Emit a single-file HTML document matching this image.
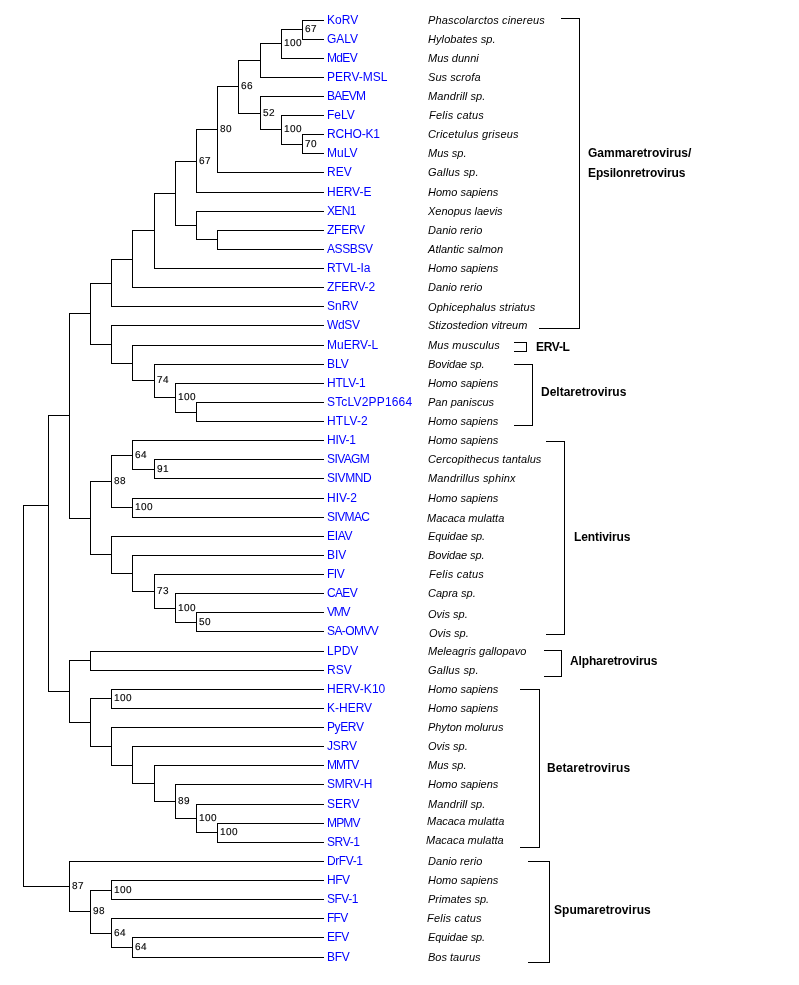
<!DOCTYPE html>
<html><head><meta charset="utf-8"><title>Retrovirus phylogeny</title>
<style>
html,body{margin:0;padding:0;background:#fff;}
body{width:799px;height:985px;overflow:hidden;}
svg{display:block;}
text{font-family:"Liberation Sans",Arial,sans-serif;}
.bs text{text-rendering:geometricPrecision;font-size:10px;letter-spacing:0.4px;fill:#000;stroke:#000;stroke-width:0.12px;}
.tp text{font-size:12px;fill:#0000ff;}
.sp text{font-size:11px;font-style:italic;fill:#000;}
.gr text{font-size:12px;font-weight:bold;fill:#000;}
</style></head><body>
<svg width="799" height="985" viewBox="0 0 799 985">
<g fill="#000" shape-rendering="crispEdges">
<rect x="23" y="505" width="26" height="1"/>
<rect x="48" y="415" width="22" height="1"/>
<rect x="69" y="313" width="22" height="1"/>
<rect x="90" y="283" width="22" height="1"/>
<rect x="111" y="259" width="22" height="1"/>
<rect x="132" y="230" width="23" height="1"/>
<rect x="154" y="193" width="22" height="1"/>
<rect x="175" y="161" width="22" height="1"/>
<rect x="196" y="129" width="22" height="1"/>
<rect x="217" y="86" width="22" height="1"/>
<rect x="238" y="60" width="23" height="1"/>
<rect x="260" y="43" width="22" height="1"/>
<rect x="281" y="29" width="22" height="1"/>
<rect x="302" y="20" width="22" height="1"/>
<rect x="302" y="39" width="22" height="1"/>
<rect x="302" y="20" width="1" height="20"/>
<rect x="281" y="58" width="43" height="1"/>
<rect x="281" y="29" width="1" height="30"/>
<rect x="260" y="77" width="64" height="1"/>
<rect x="260" y="43" width="1" height="35"/>
<rect x="238" y="113" width="23" height="1"/>
<rect x="260" y="96" width="64" height="1"/>
<rect x="260" y="129" width="22" height="1"/>
<rect x="281" y="115" width="43" height="1"/>
<rect x="281" y="144" width="22" height="1"/>
<rect x="302" y="134" width="22" height="1"/>
<rect x="302" y="153" width="22" height="1"/>
<rect x="302" y="134" width="1" height="20"/>
<rect x="281" y="115" width="1" height="30"/>
<rect x="260" y="96" width="1" height="34"/>
<rect x="238" y="60" width="1" height="54"/>
<rect x="217" y="172" width="107" height="1"/>
<rect x="217" y="86" width="1" height="87"/>
<rect x="196" y="192" width="128" height="1"/>
<rect x="196" y="129" width="1" height="64"/>
<rect x="175" y="225" width="22" height="1"/>
<rect x="196" y="211" width="128" height="1"/>
<rect x="196" y="239" width="22" height="1"/>
<rect x="217" y="230" width="107" height="1"/>
<rect x="217" y="249" width="107" height="1"/>
<rect x="217" y="230" width="1" height="20"/>
<rect x="196" y="211" width="1" height="29"/>
<rect x="175" y="161" width="1" height="65"/>
<rect x="154" y="268" width="170" height="1"/>
<rect x="154" y="193" width="1" height="76"/>
<rect x="132" y="287" width="192" height="1"/>
<rect x="132" y="230" width="1" height="58"/>
<rect x="111" y="306" width="213" height="1"/>
<rect x="111" y="259" width="1" height="48"/>
<rect x="90" y="344" width="22" height="1"/>
<rect x="111" y="325" width="213" height="1"/>
<rect x="111" y="363" width="22" height="1"/>
<rect x="132" y="345" width="192" height="1"/>
<rect x="132" y="380" width="23" height="1"/>
<rect x="154" y="364" width="170" height="1"/>
<rect x="154" y="397" width="22" height="1"/>
<rect x="175" y="383" width="149" height="1"/>
<rect x="175" y="412" width="22" height="1"/>
<rect x="196" y="402" width="128" height="1"/>
<rect x="196" y="421" width="128" height="1"/>
<rect x="196" y="402" width="1" height="20"/>
<rect x="175" y="383" width="1" height="30"/>
<rect x="154" y="364" width="1" height="34"/>
<rect x="132" y="345" width="1" height="36"/>
<rect x="111" y="325" width="1" height="39"/>
<rect x="90" y="283" width="1" height="62"/>
<rect x="69" y="518" width="22" height="1"/>
<rect x="90" y="481" width="22" height="1"/>
<rect x="111" y="455" width="22" height="1"/>
<rect x="132" y="440" width="192" height="1"/>
<rect x="132" y="469" width="23" height="1"/>
<rect x="154" y="459" width="170" height="1"/>
<rect x="154" y="478" width="170" height="1"/>
<rect x="154" y="459" width="1" height="20"/>
<rect x="132" y="440" width="1" height="30"/>
<rect x="111" y="507" width="22" height="1"/>
<rect x="132" y="498" width="192" height="1"/>
<rect x="132" y="517" width="192" height="1"/>
<rect x="132" y="498" width="1" height="20"/>
<rect x="111" y="455" width="1" height="53"/>
<rect x="90" y="554" width="22" height="1"/>
<rect x="111" y="536" width="213" height="1"/>
<rect x="111" y="573" width="22" height="1"/>
<rect x="132" y="555" width="192" height="1"/>
<rect x="132" y="591" width="23" height="1"/>
<rect x="154" y="574" width="170" height="1"/>
<rect x="154" y="608" width="22" height="1"/>
<rect x="175" y="593" width="149" height="1"/>
<rect x="175" y="622" width="22" height="1"/>
<rect x="196" y="612" width="128" height="1"/>
<rect x="196" y="631" width="128" height="1"/>
<rect x="196" y="612" width="1" height="20"/>
<rect x="175" y="593" width="1" height="30"/>
<rect x="154" y="574" width="1" height="35"/>
<rect x="132" y="555" width="1" height="37"/>
<rect x="111" y="536" width="1" height="38"/>
<rect x="90" y="481" width="1" height="74"/>
<rect x="69" y="313" width="1" height="206"/>
<rect x="48" y="691" width="22" height="1"/>
<rect x="69" y="660" width="22" height="1"/>
<rect x="90" y="651" width="234" height="1"/>
<rect x="90" y="670" width="234" height="1"/>
<rect x="90" y="651" width="1" height="20"/>
<rect x="69" y="722" width="22" height="1"/>
<rect x="90" y="698" width="22" height="1"/>
<rect x="111" y="689" width="213" height="1"/>
<rect x="111" y="708" width="213" height="1"/>
<rect x="111" y="689" width="1" height="20"/>
<rect x="90" y="746" width="22" height="1"/>
<rect x="111" y="727" width="213" height="1"/>
<rect x="111" y="765" width="22" height="1"/>
<rect x="132" y="746" width="192" height="1"/>
<rect x="132" y="783" width="23" height="1"/>
<rect x="154" y="765" width="170" height="1"/>
<rect x="154" y="801" width="22" height="1"/>
<rect x="175" y="784" width="149" height="1"/>
<rect x="175" y="818" width="22" height="1"/>
<rect x="196" y="804" width="128" height="1"/>
<rect x="196" y="832" width="22" height="1"/>
<rect x="217" y="823" width="107" height="1"/>
<rect x="217" y="842" width="107" height="1"/>
<rect x="217" y="823" width="1" height="20"/>
<rect x="196" y="804" width="1" height="29"/>
<rect x="175" y="784" width="1" height="35"/>
<rect x="154" y="765" width="1" height="37"/>
<rect x="132" y="746" width="1" height="38"/>
<rect x="111" y="727" width="1" height="39"/>
<rect x="90" y="698" width="1" height="49"/>
<rect x="69" y="660" width="1" height="63"/>
<rect x="48" y="415" width="1" height="277"/>
<rect x="23" y="886" width="47" height="1"/>
<rect x="69" y="861" width="255" height="1"/>
<rect x="69" y="911" width="22" height="1"/>
<rect x="90" y="890" width="22" height="1"/>
<rect x="111" y="880" width="213" height="1"/>
<rect x="111" y="899" width="213" height="1"/>
<rect x="111" y="880" width="1" height="20"/>
<rect x="90" y="933" width="22" height="1"/>
<rect x="111" y="918" width="213" height="1"/>
<rect x="111" y="947" width="22" height="1"/>
<rect x="132" y="937" width="192" height="1"/>
<rect x="132" y="957" width="192" height="1"/>
<rect x="132" y="937" width="1" height="21"/>
<rect x="111" y="918" width="1" height="30"/>
<rect x="90" y="890" width="1" height="44"/>
<rect x="69" y="861" width="1" height="51"/>
<rect x="23" y="505" width="1" height="382"/>
<rect x="561" y="18" width="19" height="1"/>
<rect x="539" y="328" width="41" height="1"/>
<rect x="579" y="18" width="1" height="311"/>
<rect x="514" y="342" width="13" height="1"/>
<rect x="514" y="351" width="13" height="1"/>
<rect x="526" y="342" width="1" height="10"/>
<rect x="514" y="364" width="19" height="1"/>
<rect x="514" y="425" width="19" height="1"/>
<rect x="532" y="364" width="1" height="62"/>
<rect x="546" y="441" width="19" height="1"/>
<rect x="546" y="634" width="19" height="1"/>
<rect x="564" y="441" width="1" height="194"/>
<rect x="544" y="650" width="18" height="1"/>
<rect x="544" y="676" width="18" height="1"/>
<rect x="561" y="650" width="1" height="27"/>
<rect x="520" y="689" width="20" height="1"/>
<rect x="520" y="847" width="20" height="1"/>
<rect x="539" y="689" width="1" height="159"/>
<rect x="528" y="861" width="22" height="1"/>
<rect x="528" y="962" width="22" height="1"/>
<rect x="549" y="861" width="1" height="102"/>
</g>
<g class="bs">
<text x="305" y="32">67</text>
<text x="284" y="46">100</text>
<text x="305" y="147">70</text>
<text x="284" y="132">100</text>
<text x="263" y="116">52</text>
<text x="241" y="89">66</text>
<text x="220" y="132">80</text>
<text x="199" y="164">67</text>
<text x="178" y="400">100</text>
<text x="157" y="383">74</text>
<text x="157" y="472">91</text>
<text x="135" y="458">64</text>
<text x="135" y="510">100</text>
<text x="114" y="484">88</text>
<text x="199" y="625">50</text>
<text x="178" y="611">100</text>
<text x="157" y="594">73</text>
<text x="114" y="701">100</text>
<text x="220" y="835">100</text>
<text x="199" y="821">100</text>
<text x="178" y="804">89</text>
<text x="114" y="893">100</text>
<text x="135" y="950">64</text>
<text x="114" y="936">64</text>
<text x="93" y="914">98</text>
<text x="72" y="889">87</text>
</g>
<g class="tp">
<text x="327" y="24">KoRV</text>
<text x="327" y="43">GALV</text>
<text x="327" y="62" style="letter-spacing:-0.67px">MdEV</text>
<text x="327" y="81">PERV-MSL</text>
<text x="327" y="100" style="letter-spacing:-0.75px">BAEVM</text>
<text x="327" y="119">FeLV</text>
<text x="327" y="138" style="letter-spacing:-0.17px">RCHO-K1</text>
<text x="327" y="157">MuLV</text>
<text x="327" y="176">REV</text>
<text x="327" y="196">HERV-E</text>
<text x="327" y="215" style="letter-spacing:-0.67px">XEN1</text>
<text x="327" y="234" style="letter-spacing:-0.25px">ZFERV</text>
<text x="327" y="253" style="letter-spacing:-0.40px">ASSBSV</text>
<text x="327" y="272" style="letter-spacing:-0.17px">RTVL-Ia</text>
<text x="327" y="291" style="letter-spacing:-0.17px">ZFERV-2</text>
<text x="327" y="310">SnRV</text>
<text x="327" y="329" style="letter-spacing:-0.33px">WdSV</text>
<text x="327" y="349">MuERV-L</text>
<text x="327" y="368">BLV</text>
<text x="327" y="387" style="letter-spacing:-0.20px">HTLV-1</text>
<text x="327" y="406" style="letter-spacing:0.18px">STcLV2PP1664</text>
<text x="327" y="425" style="letter-spacing:0.20px">HTLV-2</text>
<text x="327" y="444" style="letter-spacing:-0.25px">HIV-1</text>
<text x="327" y="463" style="letter-spacing:-0.60px">SIVAGM</text>
<text x="327" y="482" style="letter-spacing:-0.40px">SIVMND</text>
<text x="327" y="502">HIV-2</text>
<text x="327" y="521" style="letter-spacing:-0.60px">SIVMAC</text>
<text x="327" y="540" style="letter-spacing:-0.33px">EIAV</text>
<text x="327" y="559">BIV</text>
<text x="327" y="578" style="letter-spacing:-0.50px">FIV</text>
<text x="327" y="597" style="letter-spacing:-0.67px">CAEV</text>
<text x="327" y="616" style="letter-spacing:-1.25px">VMV</text>
<text x="327" y="635" style="letter-spacing:-0.58px">SA-OMVV</text>
<text x="327" y="655">LPDV</text>
<text x="327" y="674">RSV</text>
<text x="327" y="693" style="letter-spacing:0.07px">HERV-K10</text>
<text x="327" y="712">K-HERV</text>
<text x="327" y="731" style="letter-spacing:-0.38px">PyERV</text>
<text x="327" y="750" style="letter-spacing:-0.17px">JSRV</text>
<text x="327" y="769" style="letter-spacing:-1.00px">MMTV</text>
<text x="327" y="788" style="letter-spacing:-0.20px">SMRV-H</text>
<text x="327" y="808">SERV</text>
<text x="327" y="827" style="letter-spacing:-0.83px">MPMV</text>
<text x="327" y="846" style="letter-spacing:-0.38px">SRV-1</text>
<text x="327" y="865" style="letter-spacing:-0.40px">DrFV-1</text>
<text x="327" y="884" style="letter-spacing:-0.50px">HFV</text>
<text x="327" y="903" style="letter-spacing:-0.50px">SFV-1</text>
<text x="327" y="922" style="letter-spacing:-0.75px">FFV</text>
<text x="327" y="941" style="letter-spacing:-0.50px">EFV</text>
<text x="327" y="961" style="letter-spacing:-0.25px">BFV</text>
</g>
<g class="sp">
<text x="428" y="24" style="letter-spacing:0.14px">Phascolarctos cinereus</text>
<text x="428" y="43" style="letter-spacing:0.08px">Hylobates sp.</text>
<text x="428" y="62">Mus dunni</text>
<text x="428" y="81" style="letter-spacing:0.06px">Sus scrofa</text>
<text x="428" y="100" style="letter-spacing:0.09px">Mandrill sp.</text>
<text x="429" y="119" style="letter-spacing:0.23px">Felis catus</text>
<text x="428" y="138" style="letter-spacing:0.18px">Cricetulus griseus</text>
<text x="428" y="157">Mus sp.</text>
<text x="428" y="176" style="letter-spacing:0.17px">Gallus sp.</text>
<text x="428" y="196">Homo sapiens</text>
<text x="428" y="215">Xenopus laevis</text>
<text x="428" y="234" style="letter-spacing:0.05px">Danio rerio</text>
<text x="428" y="253" style="letter-spacing:0.04px">Atlantic salmon</text>
<text x="428" y="272">Homo sapiens</text>
<text x="428" y="291" style="letter-spacing:0.05px">Danio rerio</text>
<text x="428" y="311" style="letter-spacing:0.07px">Ophicephalus striatus</text>
<text x="428" y="329" style="letter-spacing:0.02px">Stizostedion vitreum</text>
<text x="428" y="349" style="letter-spacing:0.13px">Mus musculus</text>
<text x="428" y="368" style="letter-spacing:-0.10px">Bovidae sp.</text>
<text x="428" y="387">Homo sapiens</text>
<text x="428" y="406">Pan paniscus</text>
<text x="428" y="425">Homo sapiens</text>
<text x="428" y="444">Homo sapiens</text>
<text x="428" y="463" style="letter-spacing:0.07px">Cercopithecus tantalus</text>
<text x="428" y="482" style="letter-spacing:0.16px">Mandrillus sphinx</text>
<text x="428" y="502">Homo sapiens</text>
<text x="427" y="522" style="letter-spacing:-0.03px">Macaca mulatta</text>
<text x="428" y="540" style="letter-spacing:-0.10px">Equidae sp.</text>
<text x="428" y="559" style="letter-spacing:-0.10px">Bovidae sp.</text>
<text x="429" y="578" style="letter-spacing:0.23px">Felis catus</text>
<text x="428" y="597">Capra sp.</text>
<text x="428" y="618">Ovis sp.</text>
<text x="429" y="637">Ovis sp.</text>
<text x="428" y="655" style="letter-spacing:0.03px">Meleagris gallopavo</text>
<text x="428" y="674" style="letter-spacing:0.17px">Gallus sp.</text>
<text x="428" y="693">Homo sapiens</text>
<text x="428" y="712">Homo sapiens</text>
<text x="428" y="731" style="letter-spacing:-0.08px">Phyton molurus</text>
<text x="428" y="750">Ovis sp.</text>
<text x="428" y="769">Mus sp.</text>
<text x="428" y="788">Homo sapiens</text>
<text x="428" y="808" style="letter-spacing:0.09px">Mandrill sp.</text>
<text x="427" y="825" style="letter-spacing:-0.03px">Macaca mulatta</text>
<text x="426" y="844">Macaca mulatta</text>
<text x="428" y="865" style="letter-spacing:0.05px">Danio rerio</text>
<text x="428" y="884">Homo sapiens</text>
<text x="428" y="903">Primates sp.</text>
<text x="427" y="922" style="letter-spacing:0.20px">Felis catus</text>
<text x="428" y="941" style="letter-spacing:-0.10px">Equidae sp.</text>
<text x="428" y="961">Bos taurus</text>
</g>
<g class="gr">
<text x="588" y="157">Gammaretrovirus/</text>
<text x="588" y="177" style="letter-spacing:-0.12px">Epsilonretrovirus</text>
<text x="536" y="351" style="letter-spacing:-0.30px">ERV-L</text>
<text x="541" y="396">Deltaretrovirus</text>
<text x="574" y="541" style="letter-spacing:-0.10px">Lentivirus</text>
<text x="570" y="665" style="letter-spacing:-0.14px">Alpharetrovirus</text>
<text x="547" y="772" style="letter-spacing:0.08px">Betaretrovirus</text>
<text x="554" y="914" style="letter-spacing:0.05px">Spumaretrovirus</text>
</g>
</svg>
</body></html>
